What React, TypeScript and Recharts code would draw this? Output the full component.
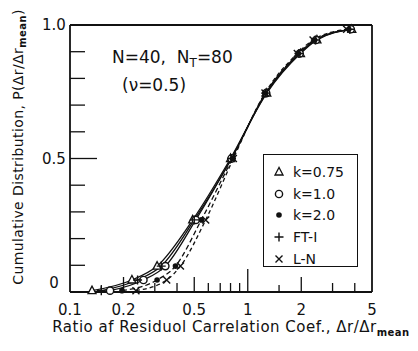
import { LineChart, Line, XAxis, YAxis } from 'recharts';

// probability levels where each model was evaluated
const pLevels = [0.005, 0.045, 0.097, 0.27, 0.5, 0.745, 0.893, 0.944, 0.984];

// ratio Δr/Δr_mean at each level, one list per model
const k075 = [0.133, 0.223, 0.309, 0.49, 0.8, 1.28, 1.98, 2.45, 3.85];
const k10 = [0.168, 0.259, 0.344, 0.51, 0.81, 1.27, 1.96, 2.42, 3.8];
const k20 = [0.196, 0.309, 0.392, 0.548, 0.82, 1.26, 1.93, 2.38, 3.7];
const ft1 = [0.15, 0.24, 0.326, 0.5, 0.81, 1.26, 1.94, 2.4, 3.75];
const logNormal = [0.235, 0.35, 0.418, 0.58, 0.83, 1.25, 1.9, 2.33, 3.6];

const xTicks = [0.1, 0.15, 0.2, 0.3, 0.4, 0.5, 0.6, 0.7, 0.8, 0.9, 1, 1.5, 2, 3, 4, 5];
const xLabels = [0.1, 0.2, 0.5, 1, 2, 5];
const yTicks = [0, 0.1, 0.2, 0.3, 0.4, 0.5, 0.6, 0.7, 0.8, 0.9, 1];
const yLabels = [0, 0.5, 1];

type MarkerKind = 'tri' | 'circle' | 'dot' | 'plus' | 'cross';

const series: { name: string; xs: number[]; marker: MarkerKind; dash?: string }[] = [
  { name: 'k=0.75', xs: k075, marker: 'tri' },
  { name: 'k=1.0', xs: k10, marker: 'circle' },
  { name: 'k=2.0', xs: k20, marker: 'dot', dash: '5 3' },
  { name: 'FT-I', xs: ft1, marker: 'plus' },
  { name: 'L-N', xs: logNormal, marker: 'cross', dash: '4 3' },
];

const INK = '#111';
const FONT = '"DejaVu Sans", sans-serif';

function toPoints(xs: number[]) {
  return xs.map((x, i) => ({ x, p: pLevels[i] }));
}

function Marker({ cx, cy, kind }: { cx: number; cy: number; kind: MarkerKind }) {
  if (cx == null || cy == null) return null;
  switch (kind) {
    case 'tri':
      return (
        <polygon
          points={`${cx},${cy - 4.5} ${cx - 4},${cy + 3} ${cx + 4},${cy + 3}`}
          fill="#fff"
          stroke={INK}
          strokeWidth={1.3}
        />
      );
    case 'circle':
      return <circle cx={cx} cy={cy} r={3.6} fill="#fff" stroke={INK} strokeWidth={1.4} />;
    case 'dot':
      return <circle cx={cx} cy={cy} r={2.8} fill={INK} />;
    case 'plus':
      return (
        <path d={`M${cx - 4.5},${cy}H${cx + 4.5}M${cx},${cy - 4.5}V${cy + 4.5}`} stroke={INK} strokeWidth={1.4} />
      );
    default:
      return (
        <path
          d={`M${cx - 3.5},${cy - 3.5}L${cx + 3.5},${cy + 3.5}M${cx - 3.5},${cy + 3.5}L${cx + 3.5},${cy - 3.5}`}
          stroke={INK}
          strokeWidth={1.4}
        />
      );
  }
}

function xTickLen(v: number, top: boolean) {
  if (v === 0.1 || v === 5) return 0;
  if (v === 1) return 23;
  if (v === 2) return top ? 22 : 15;
  if (v === 0.2 || v === 0.5) return top ? 18 : 15;
  if (v === 0.15 || v === 1.5) return 7;
  return 9;
}

function BottomTick({ x, y, payload }: any) {
  const v = payload.value;
  const len = xTickLen(v, false);
  return (
    <g>
      {len > 0 && <line x1={x} x2={x} y1={y} y2={y - len} stroke={INK} strokeWidth={1.3} />}
      {xLabels.includes(v) && (
        <text x={x} y={y + 23} textAnchor="middle" fontSize={15} fontFamily={FONT} fill={INK}>
          {String(v)}
        </text>
      )}
    </g>
  );
}

function TopTick({ x, y, payload }: any) {
  const len = xTickLen(payload.value, true);
  if (!len) return <g />;
  return <line x1={x} x2={x} y1={y} y2={y + len} stroke={INK} strokeWidth={1.3} />;
}

function LeftTick({ x, y, payload }: any) {
  const v = payload.value;
  const len = v === 0.5 ? 27 : 15;
  return (
    <g>
      {v > 0 && v < 1 && <line x1={x} x2={x + len} y1={y} y2={y} stroke={INK} strokeWidth={1.3} />}
      {yLabels.includes(v) && (
        <text
          x={x - 16}
          y={v === 0 ? y - 4 : y + 5}
          textAnchor="middle"
          fontSize={15}
          fontFamily={FONT}
          fill={INK}
        >
          {v === 1 ? '1.0' : String(v)}
        </text>
      )}
    </g>
  );
}

function RightTick({ x, y, payload }: any) {
  const v = payload.value;
  if (v <= 0 || v >= 1) return <g />;
  const len = v === 0.5 ? 16 : 11;
  return <line x1={x} x2={x - len} y1={y} y2={y} stroke={INK} strokeWidth={1.3} />;
}

function LegendSymbol({ kind }: { kind: MarkerKind }) {
  return (
    <svg width={14} height={14} style={{ display: 'block' }}>
      <Marker cx={7} cy={7} kind={kind} />
    </svg>
  );
}

const axisLine = { stroke: INK, strokeWidth: 1.8 };

export default function App() {
  return (
    <div
      style={{
        position: 'absolute',
        left: 0,
        top: 0,
        width: 418,
        height: 351,
        background: '#fff',
        fontFamily: FONT,
        color: INK,
      }}
    >
      {/* axes are 1px thick so the plot box lands at x 70..372, y 25..292 */}
      <LineChart width={418} height={351} margin={{ top: 24, right: 45, bottom: 58, left: 69 }}>
        <XAxis
          dataKey="x"
          type="number"
          scale="log"
          domain={[0.1, 5]}
          allowDataOverflow
          ticks={xTicks}
          interval={0}
          height={1}
          tickSize={0}
          tickMargin={0}
          tickLine={false}
          axisLine={axisLine}
          tick={<BottomTick />}
        />
        <XAxis
          xAxisId="top"
          orientation="top"
          type="number"
          scale="log"
          domain={[0.1, 5]}
          allowDataOverflow
          ticks={xTicks}
          interval={0}
          height={1}
          tickSize={0}
          tickMargin={0}
          tickLine={false}
          axisLine={axisLine}
          tick={<TopTick />}
        />
        <YAxis
          type="number"
          domain={[0, 1]}
          ticks={yTicks}
          interval={0}
          width={1}
          tickSize={0}
          tickMargin={0}
          tickLine={false}
          axisLine={axisLine}
          tick={<LeftTick />}
        />
        <YAxis
          yAxisId="right"
          orientation="right"
          type="number"
          domain={[0, 1]}
          ticks={yTicks}
          interval={0}
          width={1}
          tickSize={0}
          tickMargin={0}
          tickLine={false}
          axisLine={axisLine}
          tick={<RightTick />}
        />
        {series.map((s) => (
          <Line
            key={s.name}
            name={s.name}
            data={toPoints(s.xs)}
            dataKey="p"
            type="monotone"
            stroke={INK}
            strokeWidth={1.3}
            strokeDasharray={s.dash}
            isAnimationActive={false}
            dot={(props: any) => (
              <Marker key={`${s.name}-${props.index}`} cx={props.cx} cy={props.cy} kind={s.marker} />
            )}
            activeDot={false}
          />
        ))}
      </LineChart>

      <div style={{ position: 'absolute', left: 112, top: 47, fontSize: 17, lineHeight: '20px', whiteSpace: 'nowrap' }}>
        N=40,&nbsp; N<sub style={{ fontSize: 12 }}>T</sub>=80
      </div>
      <div style={{ position: 'absolute', left: 122, top: 75, fontSize: 17, lineHeight: '20px', whiteSpace: 'nowrap' }}>
        (ν=0.5)
      </div>

      <div
        style={{
          position: 'absolute',
          left: 263,
          top: 154,
          width: 95,
          height: 113,
          border: `1.6px solid ${INK}`,
          background: '#fff',
          boxSizing: 'border-box',
          padding: '6px 0 0 8px',
        }}
      >
        {series.map((s) => (
          <div key={s.name} style={{ display: 'flex', alignItems: 'center', height: 21.8, fontSize: 14 }}>
            <LegendSymbol kind={s.marker} />
            <span style={{ marginLeft: 7 }}>{s.name}</span>
          </div>
        ))}
      </div>

      <div
        style={{
          position: 'absolute',
          left: 19,
          top: 147,
          transform: 'translate(-50%, -50%) rotate(-90deg)',
          whiteSpace: 'nowrap',
          fontSize: 14,
          letterSpacing: 0.4,
        }}
      >
        Cumulative Distribution, P(Δr/Δr<sub style={{ fontSize: 10, fontWeight: 'bold' }}>mean</sub>)
      </div>
      <div
        style={{
          position: 'absolute',
          left: 231,
          top: 328,
          transform: 'translate(-50%, -50%)',
          whiteSpace: 'nowrap',
          fontSize: 15,
          letterSpacing: 0.5,
        }}
      >
        Ratio af Residuol Carrelation Coef., Δr/Δr<sub style={{ fontSize: 10, fontWeight: 'bold' }}>mean</sub>
      </div>
    </div>
  );
}
